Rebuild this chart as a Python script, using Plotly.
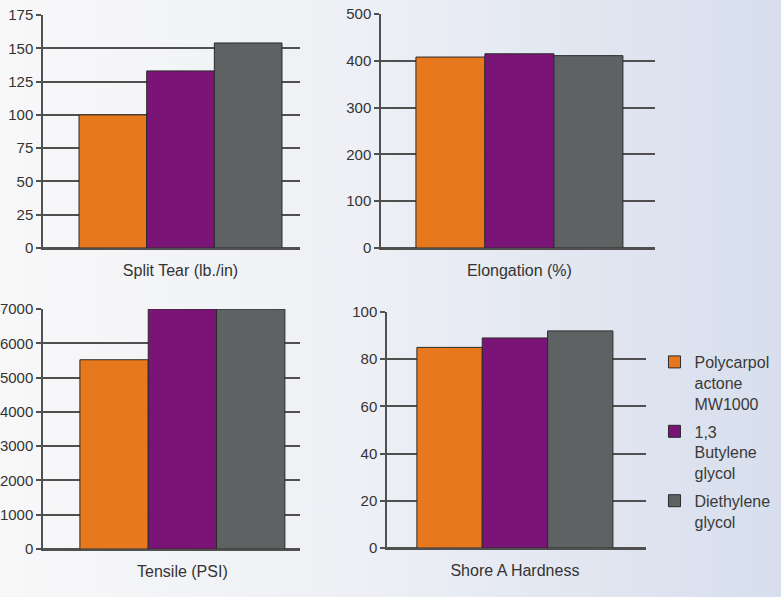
import plotly.graph_objects as go

# ---- data ----
series_names = ["Polycarpol<br>actone<br>MW1000", "1,3<br>Butylene<br>glycol", "Diethylene<br>glycol"]
series_colors = ["#e8781e", "#7a1477", "#5e6262"]
categories = ["Split Tear (lb./in)", "Elongation (%)", "Tensile (PSI)", "Shore A Hardness"]
split_tear = [100, 133, 154]
elongation = [408, 415, 411]
tensile = [5520, 7000, 7000]
shore_a = [85, 89, 92]
panel_values = [split_tear, elongation, tensile, shore_a]
y_ranges = [[0, 175], [0, 500], [0, 7000], [0, 100]]
y_dticks = [25, 100, 1000, 20]

# ---- layout helpers ----
W, H = 781, 597
# pixel boxes: (x0, x1, ytop, ybottom)
boxes = [(43, 300, 15, 248), (381, 655, 14, 248), (43, 300, 309, 549), (387, 646, 312, 548)]
x_ranges = [[-0.542, 0.471], [-0.535, 0.524], [-0.544, 0.459], [-0.522, 0.535]]

fig = go.Figure()

# background gradient on the first (lowest) subplot
fig.add_trace(go.Scatter(
    x=[0, 1, 1, 0, 0], y=[0, 0, 1, 1, 0], fill="toself", mode="none",
    fillgradient=dict(type="horizontal",
                      colorscale=[[0, "#f8f8f9"], [0.45, "#eef0f5"], [1, "#d7deed"]]),
    hoverinfo="skip", showlegend=False, xaxis="x", yaxis="y"))

axis_color = "#505050"
tick_font = dict(family="Liberation Sans, Arial, sans-serif", size=15, color="#333333")
cat_font = dict(family="Liberation Sans, Arial, sans-serif", size=16, color="#333333")

layout = dict(
    width=W, height=H,
    margin=dict(l=0, r=0, t=0, b=0, autoexpand=False),
    paper_bgcolor="#f0f2f6",
    plot_bgcolor="rgba(0,0,0,0)",
    barmode="group", bargap=0.2, bargroupgap=0,
    showlegend=True,
    xaxis=dict(domain=[0, 1], range=[0, 1], visible=False, fixedrange=True, automargin=False),
    yaxis=dict(domain=[0, 1], range=[0, 1], visible=False, fixedrange=True, automargin=False),
)

for p, (cat, vals) in enumerate(zip(categories, panel_values)):
    n = p + 2
    for s, (name, color) in enumerate(zip(series_names, series_colors)):
        fig.add_trace(go.Bar(
            x=[cat], y=[vals[s]], name=name,
            marker=dict(color=color, line=dict(color="#2b2b2b", width=1)),
            legendgroup=f"g{s}", showlegend=(p == 3),
            xaxis=f"x{n}", yaxis=f"y{n}"))
    x0, x1, yt, yb = boxes[p]
    layout[f"xaxis{n}"] = dict(
        domain=[x0 / W, x1 / W], range=x_ranges[p], type="category",
        anchor=f"y{n}", showline=True, linecolor=axis_color, linewidth=1.5,
        ticks="outside", ticklen=7, tickcolor="rgba(0,0,0,0)",
        tickfont=cat_font, showgrid=False, fixedrange=True, automargin=False)
    layout[f"yaxis{n}"] = dict(
        domain=[1 - yb / H, 1 - yt / H], range=y_ranges[p], dtick=y_dticks[p],
        anchor=f"x{n}", showline=True, linecolor=axis_color, linewidth=1.5,
        showgrid=True, gridcolor=axis_color, gridwidth=1.5,
        zeroline=True, zerolinecolor=axis_color, zerolinewidth=1.5,
        ticks="outside", ticklen=5, tickcolor=axis_color, tickwidth=1.5,
        tickfont=tick_font, fixedrange=True, automargin=False)

layout["legend"] = dict(
    x=0.838, y=1 - 345 / H, xanchor="left", yanchor="top",
    font=dict(family="Liberation Sans, Arial, sans-serif", size=16, color="#3a3a3a"),
    bgcolor="rgba(0,0,0,0)", valign="top", tracegroupgap=4,
    traceorder="grouped")

fig.update_layout(**layout)
fig.write_html("out.html", config={"displayModeBar": False},
               post_script="document.body.style.margin='0';")
